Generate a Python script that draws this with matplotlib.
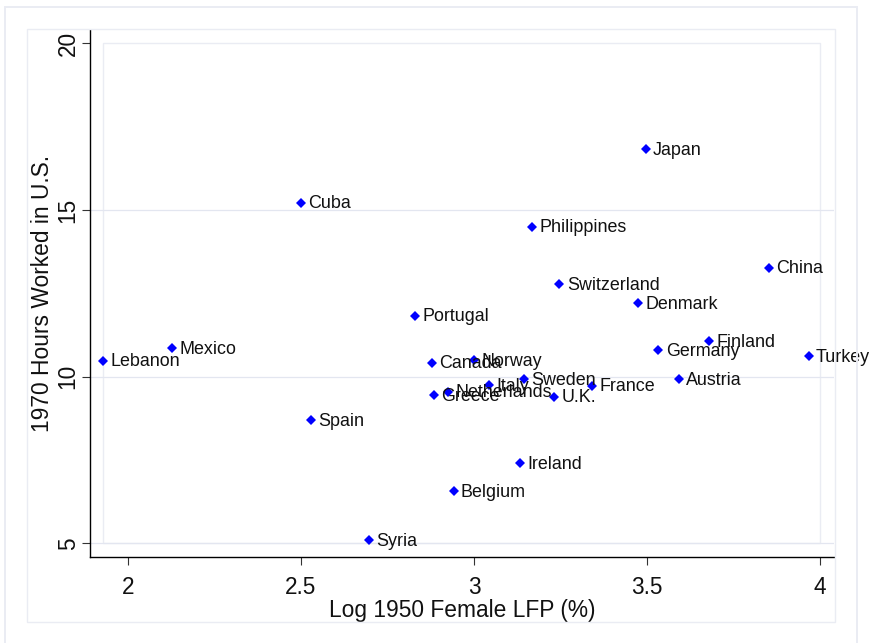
import matplotlib
matplotlib.use("Agg")
import matplotlib.pyplot as plt
from matplotlib.patches import Rectangle
import numpy as np

plt.rcParams['font.family'] = ['Liberation Sans', 'DejaVu Sans']

# data
countries = ["Lebanon", "Mexico", "Cuba", "Spain", "Syria", "Portugal", "Canada",
             "Norway", "Greece", "Netherlands", "Italy", "Sweden", "U.K.", "France",
             "Ireland", "Belgium", "Denmark", "Germany", "Finland", "Austria",
             "Turkey", "Japan", "Philippines", "Switzerland", "China"]
log_lfp = np.array([1.929, 2.128, 2.500, 2.529, 2.697, 2.829, 2.879,
                    3.001, 2.885, 2.926, 3.044, 3.144, 3.231, 3.342,
                    3.134, 2.941, 3.474, 3.533, 3.679, 3.592,
                    3.967, 3.496, 3.167, 3.247, 3.853])
hours = np.array([10.48, 10.86, 15.22, 8.70, 5.10, 11.83, 10.42,
                  10.50, 9.45, 9.55, 9.75, 9.93, 9.40, 9.73,
                  7.40, 6.57, 12.20, 10.79, 11.06, 9.93,
                  10.61, 16.82, 14.50, 12.77, 13.27])
xticks = [2, 2.5, 3, 3.5, 4]
xticklabels = ["2", "2.5", "3", "3.5", "4"]
yticks = [5, 10, 15, 20]

W, H = 869, 643
fig = plt.figure(figsize=(W / 100, H / 100), dpi=100)
fig.patch.set_facecolor("white")

frame_col = "#eaecf3"
# outer frame and graph region frame (pixel coords -> figure fraction)
def px_rect(x0, y0, x1, y1, lw):
    return Rectangle((x0 / W, 1 - y1 / H), (x1 - x0) / W, (y1 - y0) / H,
                     transform=fig.transFigure, fill=False,
                     edgecolor=frame_col, linewidth=lw, zorder=0)

fig.patches.append(px_rect(5, 7, 857, 660, 1.4))
fig.patches.append(px_rect(27, 29, 835, 622, 1.0))

ax = fig.add_axes([90 / W, (H - 557) / H, (834 - 90) / W, (557 - 30) / H])
ax.set_facecolor("none")

ax.set_xlim(1.8902, 4.0405)
ax.set_ylim(4.595, 20.40)

# plot region box
ax.add_patch(Rectangle((log_lfp.min(), 5), 4 - log_lfp.min(), 15, fill=False,
                       edgecolor=frame_col, linewidth=1.0, zorder=0))
# grid lines
for yv in yticks[:-1]:
    ax.axhline(yv, color="#e3e6f0", linewidth=0.9, zorder=0.5)

ax.plot(log_lfp, hours, linestyle="none", marker="D", markersize=5.3,
        color="#0000ff", markeredgewidth=0, zorder=3)
for name, xv, yv in zip(countries, log_lfp, hours):
    ax.annotate(name, (xv, yv), xytext=(5.3, -0.8), textcoords="offset points",
                ha="left", va="center", fontsize=12.9, color="#111111", zorder=4)

for s in ["top", "right"]:
    ax.spines[s].set_visible(False)
for s in ["left", "bottom"]:
    ax.spines[s].set_color("black")
    ax.spines[s].set_linewidth(1.0)

ax.set_xticks(xticks)
ax.set_xticklabels(xticklabels)
ax.set_yticks(yticks)
ax.tick_params(axis="both", length=6, width=0.8, color="#333333",
               labelsize=16.3, labelcolor="#111111")
ax.tick_params(axis="x", pad=8)
ax.tick_params(axis="y", pad=1.5, labelrotation=90)
plt.setp(ax.get_yticklabels(), va="center")

ax.set_xlabel("Log 1950 Female LFP (%)", fontsize=16.4, color="#111111", labelpad=0)
ax.set_ylabel("1970 Hours Worked in U.S.", fontsize=16.4, color="#111111", labelpad=2)

fig.savefig("out.png", dpi=100)
